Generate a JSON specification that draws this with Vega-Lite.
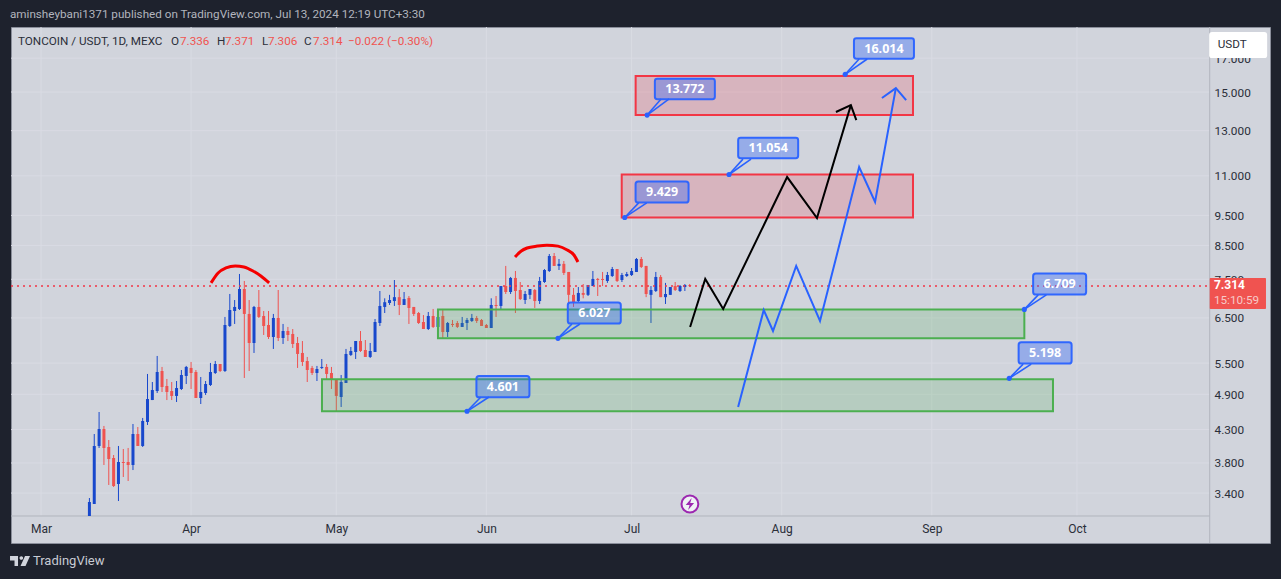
{
"$schema":"https://vega.github.io/schema/vega-lite/v6.json",
"width":1259,"height":516,
"autosize":{"type":"none"},
"padding":{"left":11,"top":27,"right":11,"bottom":36},
"background":"#1e222d",
"view":{"fill":"#d1d4dc","stroke":"#8a8e9a"},
"datasets":{
"candles":[
{"d":"2024-03-11","h":3.338,"o":3.123,"c":3.289,"l":3.123},
{"d":"2024-03-12","h":4.23,"o":3.265,"c":4.047,"l":3.265},
{"d":"2024-03-13","h":4.589,"o":4.047,"c":4.309,"l":4.017},
{"d":"2024-03-14","h":4.358,"o":4.309,"c":4.017,"l":3.772},
{"d":"2024-03-15","h":4.137,"o":4.032,"c":3.856,"l":3.503},
{"d":"2024-03-16","h":3.914,"o":3.871,"c":3.49,"l":3.477},
{"d":"2024-03-17","h":4.047,"o":3.516,"c":3.814,"l":3.301},
{"d":"2024-03-18","h":4.002,"o":3.814,"c":3.8,"l":3.608},
{"d":"2024-03-19","h":4.017,"o":3.814,"c":3.772,"l":3.555},
{"d":"2024-03-20","h":4.39,"o":3.772,"c":4.23,"l":3.702},
{"d":"2024-03-21","h":4.341,"o":4.23,"c":4.047,"l":4.047},
{"d":"2024-03-22","h":4.489,"o":4.047,"c":4.439,"l":4.032},
{"d":"2024-03-23","h":5.283,"o":4.423,"c":4.815,"l":4.374},
{"d":"2024-03-24","h":5.128,"o":4.797,"c":4.978,"l":4.797},
{"d":"2024-03-25","h":5.647,"o":4.96,"c":5.322,"l":4.924},
{"d":"2024-03-26","h":5.422,"o":5.341,"c":5.034,"l":4.942},
{"d":"2024-03-27","h":5.186,"o":5.053,"c":4.942,"l":4.797},
{"d":"2024-03-28","h":5.128,"o":4.96,"c":4.87,"l":4.797},
{"d":"2024-03-29","h":5.147,"o":4.87,"c":5.015,"l":4.762},
{"d":"2024-03-30","h":5.361,"o":4.997,"c":5.263,"l":4.978},
{"d":"2024-03-31","h":5.442,"o":5.244,"c":5.422,"l":5.09},
{"d":"2024-04-01","h":5.523,"o":5.402,"c":5.302,"l":4.997},
{"d":"2024-04-02","h":5.361,"o":5.322,"c":4.833,"l":4.833},
{"d":"2024-04-03","h":5.224,"o":4.833,"c":4.942,"l":4.727},
{"d":"2024-04-04","h":5.147,"o":4.924,"c":5.09,"l":4.888},
{"d":"2024-04-05","h":5.503,"o":5.071,"c":5.322,"l":5.053},
{"d":"2024-04-06","h":5.543,"o":5.302,"c":5.482,"l":5.283},
{"d":"2024-04-07","h":5.482,"o":5.482,"c":5.341,"l":5.322},
{"d":"2024-04-08","h":6.524,"o":5.341,"c":6.333,"l":5.322},
{"d":"2024-04-09","h":7.103,"o":6.31,"c":6.694,"l":6.287},
{"d":"2024-04-10","h":6.946,"o":6.67,"c":6.77,"l":6.357},
{"d":"2024-04-11","h":7.649,"o":6.719,"c":7.235,"l":6.694},
{"d":"2024-04-12","h":7.453,"o":7.235,"c":6.597,"l":5.205},
{"d":"2024-04-13","h":6.946,"o":6.597,"c":5.925,"l":5.341},
{"d":"2024-04-14","h":6.795,"o":5.925,"c":6.77,"l":5.71},
{"d":"2024-04-15","h":7.208,"o":6.77,"c":6.524,"l":6.5},
{"d":"2024-04-16","h":6.67,"o":6.548,"c":6.31,"l":6.103},
{"d":"2024-04-17","h":6.67,"o":6.333,"c":6.058,"l":6.013},
{"d":"2024-04-18","h":6.597,"o":6.058,"c":6.5,"l":5.795},
{"d":"2024-04-19","h":7.208,"o":6.5,"c":6.035,"l":5.968},
{"d":"2024-04-20","h":6.357,"o":6.035,"c":6.193,"l":5.903},
{"d":"2024-04-21","h":6.287,"o":6.193,"c":6.103,"l":5.968},
{"d":"2024-04-22","h":6.239,"o":6.126,"c":5.903,"l":5.816},
{"d":"2024-04-23","h":6.058,"o":5.925,"c":5.689,"l":5.402},
{"d":"2024-04-24","h":5.968,"o":5.71,"c":5.523,"l":5.442},
{"d":"2024-04-25","h":5.626,"o":5.543,"c":5.361,"l":5.128},
{"d":"2024-04-26","h":5.442,"o":5.402,"c":5.302,"l":5.263},
{"d":"2024-04-27","h":5.442,"o":5.302,"c":5.381,"l":5.147},
{"d":"2024-04-28","h":5.584,"o":5.402,"c":5.422,"l":5.381},
{"d":"2024-04-29","h":5.482,"o":5.422,"c":5.283,"l":5.166},
{"d":"2024-04-30","h":5.422,"o":5.302,"c":5.166,"l":4.997},
{"d":"2024-05-01","h":5.166,"o":5.166,"c":4.87,"l":4.606},
{"d":"2024-05-02","h":5.263,"o":4.851,"c":5.128,"l":4.675},
{"d":"2024-05-03","h":5.795,"o":5.109,"c":5.689,"l":5.109},
{"d":"2024-05-04","h":5.838,"o":5.668,"c":5.752,"l":5.647},
{"d":"2024-05-05","h":5.968,"o":5.731,"c":5.968,"l":5.584},
{"d":"2024-05-06","h":6.193,"o":5.968,"c":5.752,"l":5.731},
{"d":"2024-05-07","h":5.99,"o":5.773,"c":5.626,"l":5.626},
{"d":"2024-05-08","h":5.925,"o":5.626,"c":5.752,"l":5.605},
{"d":"2024-05-09","h":6.475,"o":5.731,"c":6.404,"l":5.731},
{"d":"2024-05-10","h":7.182,"o":6.38,"c":6.795,"l":6.31},
{"d":"2024-05-11","h":6.99,"o":6.77,"c":6.89,"l":6.62},
{"d":"2024-05-12","h":7.08,"o":6.87,"c":6.946,"l":6.82},
{"d":"2024-05-13","h":7.48,"o":6.92,"c":7.02,"l":6.795},
{"d":"2024-05-14","h":7.235,"o":7.02,"c":6.82,"l":6.57},
{"d":"2024-05-15","h":7.155,"o":6.82,"c":6.97,"l":6.82},
{"d":"2024-05-16","h":7.05,"o":7.0,"c":6.745,"l":6.357},
{"d":"2024-05-17","h":6.77,"o":6.77,"c":6.597,"l":6.548},
{"d":"2024-05-18","h":6.645,"o":6.62,"c":6.38,"l":6.357},
{"d":"2024-05-19","h":6.57,"o":6.404,"c":6.239,"l":6.239},
{"d":"2024-05-20","h":6.645,"o":6.239,"c":6.548,"l":6.216},
{"d":"2024-05-21","h":6.72,"o":6.548,"c":6.287,"l":6.263},
{"d":"2024-05-22","h":6.62,"o":6.287,"c":6.524,"l":6.17},
{"d":"2024-05-23","h":6.72,"o":6.548,"c":6.17,"l":6.035},
{"d":"2024-05-24","h":6.404,"o":6.17,"c":6.38,"l":6.058},
{"d":"2024-05-25","h":6.451,"o":6.357,"c":6.333,"l":6.287},
{"d":"2024-05-26","h":6.427,"o":6.38,"c":6.287,"l":6.263},
{"d":"2024-05-27","h":6.524,"o":6.287,"c":6.38,"l":6.287},
{"d":"2024-05-28","h":6.5,"o":6.38,"c":6.451,"l":6.216},
{"d":"2024-05-29","h":6.597,"o":6.427,"c":6.5,"l":6.404},
{"d":"2024-05-30","h":6.548,"o":6.5,"c":6.427,"l":6.38},
{"d":"2024-05-31","h":6.475,"o":6.451,"c":6.31,"l":6.31},
{"d":"2024-06-01","h":6.357,"o":6.333,"c":6.263,"l":6.263},
{"d":"2024-06-02","h":6.99,"o":6.263,"c":6.82,"l":6.263},
{"d":"2024-06-03","h":7.05,"o":6.82,"c":6.795,"l":6.524},
{"d":"2024-06-04","h":7.315,"o":6.795,"c":7.315,"l":6.694},
{"d":"2024-06-05","h":7.88,"o":7.315,"c":7.155,"l":7.103},
{"d":"2024-06-06","h":7.565,"o":7.155,"c":7.537,"l":7.103},
{"d":"2024-06-07","h":7.734,"o":7.537,"c":7.182,"l":6.62},
{"d":"2024-06-08","h":7.425,"o":7.208,"c":6.97,"l":6.946},
{"d":"2024-06-09","h":7.182,"o":6.946,"c":7.103,"l":6.845},
{"d":"2024-06-10","h":7.235,"o":7.08,"c":7.235,"l":6.97},
{"d":"2024-06-11","h":7.235,"o":7.208,"c":6.92,"l":6.745},
{"d":"2024-06-12","h":7.565,"o":6.92,"c":7.453,"l":6.845},
{"d":"2024-06-13","h":7.79,"o":7.425,"c":7.762,"l":7.4},
{"d":"2024-06-14","h":8.235,"o":7.734,"c":8.175,"l":7.706},
{"d":"2024-06-15","h":8.266,"o":8.175,"c":7.88,"l":7.88},
{"d":"2024-06-16","h":8.085,"o":7.88,"c":7.94,"l":7.762},
{"d":"2024-06-17","h":8.025,"o":7.94,"c":7.678,"l":7.62},
{"d":"2024-06-18","h":7.706,"o":7.706,"c":7.08,"l":6.87},
{"d":"2024-06-19","h":7.262,"o":7.08,"c":6.895,"l":6.77},
{"d":"2024-06-20","h":7.288,"o":6.92,"c":7.13,"l":6.895},
{"d":"2024-06-21","h":7.37,"o":7.13,"c":7.08,"l":6.99},
{"d":"2024-06-22","h":7.343,"o":7.08,"c":7.343,"l":7.05},
{"d":"2024-06-23","h":7.734,"o":7.315,"c":7.51,"l":7.315},
{"d":"2024-06-24","h":7.537,"o":7.51,"c":7.48,"l":7.05},
{"d":"2024-06-25","h":7.706,"o":7.51,"c":7.48,"l":7.315},
{"d":"2024-06-26","h":7.706,"o":7.453,"c":7.62,"l":7.4},
{"d":"2024-06-27","h":7.85,"o":7.592,"c":7.79,"l":7.565},
{"d":"2024-06-28","h":7.79,"o":7.79,"c":7.453,"l":7.425},
{"d":"2024-06-29","h":7.678,"o":7.48,"c":7.62,"l":7.425},
{"d":"2024-06-30","h":7.706,"o":7.592,"c":7.649,"l":7.565},
{"d":"2024-07-01","h":7.82,"o":7.62,"c":7.734,"l":7.592},
{"d":"2024-07-02","h":8.115,"o":7.706,"c":8.085,"l":7.706},
{"d":"2024-07-03","h":8.145,"o":8.085,"c":7.85,"l":7.82},
{"d":"2024-07-04","h":7.88,"o":7.88,"c":7.103,"l":7.02},
{"d":"2024-07-05","h":7.315,"o":7.08,"c":7.208,"l":6.38},
{"d":"2024-07-06","h":7.706,"o":7.182,"c":7.565,"l":7.155},
{"d":"2024-07-07","h":7.62,"o":7.565,"c":7.02,"l":7.02},
{"d":"2024-07-08","h":7.4,"o":7.02,"c":7.103,"l":6.845},
{"d":"2024-07-09","h":7.288,"o":7.08,"c":7.288,"l":7.08},
{"d":"2024-07-10","h":7.425,"o":7.315,"c":7.208,"l":7.182},
{"d":"2024-07-11","h":7.343,"o":7.182,"c":7.315,"l":7.155},
{"d":"2024-07-12","h":7.37,"o":7.288,"c":7.343,"l":7.182},
{"d":"2024-07-13","h":7.371,"o":7.336,"c":7.314,"l":7.306}
],
"zones":[
{"k":"red","d":"2024-07-01T20:00:00Z","d2":"2024-08-28T03:00:00Z","p":15.92,"p2":13.772},
{"k":"red","d":"2024-06-28T23:00:00Z","d2":"2024-08-28T03:00:00Z","p":11.054,"p2":9.429},
{"k":"green","d":"2024-05-22T00:00:00Z","d2":"2024-09-20T03:00:00Z","p":6.709,"p2":6.027},
{"k":"green","d":"2024-04-28T01:00:00Z","d2":"2024-09-26T01:00:00Z","p":5.18,"p2":4.601}
],
"callouts":[
{"t":"13.772","d":"2024-07-04T05:00:00Z","p":13.772,"d2":"2024-07-07T02:00:00Z","d3":"2024-07-08T18:00:00Z","p2":14.62,"bd":"2024-07-12T00:00:00Z","bp":15.17},
{"t":"9.429","d":"2024-06-29T14:00:00Z","p":9.429,"d2":"2024-07-02T11:00:00Z","d3":"2024-07-04T03:00:00Z","p2":9.95,"bd":"2024-07-07T07:00:00Z","bp":10.36},
{"t":"11.054","d":"2024-07-21T03:00:00Z","p":11.054,"d2":"2024-07-24T00:00:00Z","d3":"2024-07-25T16:00:00Z","p2":11.7,"bd":"2024-07-29T05:00:00Z","bp":12.19},
{"t":"16.014","d":"2024-08-14T03:00:00Z","p":16.014,"d2":"2024-08-17T00:00:00Z","d3":"2024-08-18T16:00:00Z","p2":16.95,"bd":"2024-08-22T03:00:00Z","bp":17.62},
{"t":"6.709","d":"2024-09-20T03:00:00Z","p":6.709,"d2":"2024-09-23T00:00:00Z","d3":"2024-09-24T16:00:00Z","p2":7.08,"bd":"2024-09-27T10:00:00Z","bp":7.37},
{"t":"5.198","d":"2024-09-17T00:00:00Z","p":5.198,"d2":"2024-09-19T21:00:00Z","d3":"2024-09-21T13:00:00Z","p2":5.48,"bd":"2024-09-24T10:00:00Z","bp":5.71},
{"t":"6.027","d":"2024-06-15T19:00:00Z","p":6.027,"d2":"2024-06-18T16:00:00Z","d3":"2024-06-20T08:00:00Z","p2":6.357,"bd":"2024-06-23T07:00:00Z","bp":6.62},
{"t":"4.601","d":"2024-05-28T00:00:00Z","p":4.601,"d2":"2024-05-30T21:00:00Z","d3":"2024-06-01T13:00:00Z","p2":4.851,"bd":"2024-06-04T10:00:00Z","bp":5.04}
],
"lines":[
{"g":"k1","s":1,"d":"2024-07-13T02:00:00Z","p":6.287},
{"g":"k1","s":2,"d":"2024-07-16T05:00:00Z","p":7.51},
{"g":"k1","s":3,"d":"2024-07-19T22:00:00Z","p":6.72},
{"g":"k1","s":4,"d":"2024-08-02T03:00:00Z","p":10.95},
{"g":"k1","s":5,"d":"2024-08-08T07:00:00Z","p":9.41},
{"g":"k1","s":6,"d":"2024-08-15T07:00:00Z","p":14.29},
{"g":"k2","s":1,"d":"2024-08-12T05:00:00Z","p":13.93},
{"g":"k2","s":2,"d":"2024-08-15T07:00:00Z","p":14.29},
{"g":"k2","s":3,"d":"2024-08-16T10:00:00Z","p":13.52},
{"g":"b1","s":1,"d":"2024-07-23T00:00:00Z","p":4.675},
{"g":"b1","s":2,"d":"2024-07-28T07:00:00Z","p":6.694},
{"g":"b1","s":3,"d":"2024-07-30T05:00:00Z","p":6.193},
{"g":"b1","s":4,"d":"2024-08-04T00:00:00Z","p":7.88},
{"g":"b1","s":5,"d":"2024-08-08T22:00:00Z","p":6.427},
{"g":"b1","s":6,"d":"2024-08-17T00:00:00Z","p":11.36},
{"g":"b1","s":7,"d":"2024-08-20T07:00:00Z","p":9.99},
{"g":"b1","s":8,"d":"2024-08-24T14:00:00Z","p":15.22},
{"g":"b2","s":1,"d":"2024-08-21T17:00:00Z","p":14.67},
{"g":"b2","s":2,"d":"2024-08-24T14:00:00Z","p":15.22},
{"g":"b2","s":3,"d":"2024-08-26T17:00:00Z","p":14.56},
{"g":"r1","s":1,"d":"2024-04-05T03:00:00Z","p":7.4},
{"g":"r1","s":2,"d":"2024-04-06T14:00:00Z","p":7.678},
{"g":"r1","s":3,"d":"2024-04-08T05:00:00Z","p":7.82},
{"g":"r1","s":4,"d":"2024-04-10T03:00:00Z","p":7.88},
{"g":"r1","s":5,"d":"2024-04-11T22:00:00Z","p":7.85},
{"g":"r1","s":6,"d":"2024-04-13T19:00:00Z","p":7.734},
{"g":"r1","s":7,"d":"2024-04-15T10:00:00Z","p":7.59},
{"g":"r1","s":8,"d":"2024-04-17T03:00:00Z","p":7.4},
{"g":"r2","s":1,"d":"2024-06-06T22:00:00Z","p":8.145},
{"g":"r2","s":2,"d":"2024-06-08T05:00:00Z","p":8.33},
{"g":"r2","s":3,"d":"2024-06-09T10:00:00Z","p":8.42},
{"g":"r2","s":4,"d":"2024-06-11T12:00:00Z","p":8.48},
{"g":"r2","s":5,"d":"2024-06-13T12:00:00Z","p":8.51},
{"g":"r2","s":6,"d":"2024-06-15T19:00:00Z","p":8.48},
{"g":"r2","s":7,"d":"2024-06-17T17:00:00Z","p":8.358},
{"g":"r2","s":8,"d":"2024-06-19T02:00:00Z","p":8.205},
{"g":"r2","s":9,"d":"2024-06-19T22:00:00Z","p":7.995}
],
"texts":[
{"k":"head","t":"aminsheybani1371 published on TradingView.com, Jul 13, 2024 12:19 UTC+3:30","d":"2024-02-23T14:00:00Z","p":20.0},
{"k":"dark","t":"TONCOIN / USDT, 1D, MEXC","d":"2024-02-25T06:00:00Z","p":18.12},
{"k":"dark","t":"O","d":"2024-03-27T20:00:00Z","p":18.12},
{"k":"red","t":"7.336","d":"2024-03-29T17:00:00Z","p":18.12},
{"k":"dark","t":"H","d":"2024-04-06T09:00:00Z","p":18.12},
{"k":"red","t":"7.371","d":"2024-04-08T00:00:00Z","p":18.12},
{"k":"dark","t":"L","d":"2024-04-15T16:00:00Z","p":18.12},
{"k":"red","t":"7.306","d":"2024-04-16T21:00:00Z","p":18.12},
{"k":"dark","t":"C","d":"2024-04-24T08:00:00Z","p":18.12},
{"k":"red","t":"7.314","d":"2024-04-26T05:00:00Z","p":18.12},
{"k":"red","t":"−0.022 (−0.30%)","d":"2024-05-03T10:00:00Z","p":18.12},
{"k":"dark","t":"USDT","d":"2024-10-30T02:00:00Z","p":17.92},
{"k":"pink","t":"15:10:59","d":"2024-10-29T07:00:00Z","p":6.946}
],
"grid":[
{"d":"2024-02-23T19:16:00Z","d2":"2024-10-28T10:00:00Z","p":17},
{"d":"2024-02-23T19:16:00Z","d2":"2024-10-28T10:00:00Z","p":15},
{"d":"2024-02-23T19:16:00Z","d2":"2024-10-28T10:00:00Z","p":13},
{"d":"2024-02-23T19:16:00Z","d2":"2024-10-28T10:00:00Z","p":11},
{"d":"2024-02-23T19:16:00Z","d2":"2024-10-28T10:00:00Z","p":9.5},
{"d":"2024-02-23T19:16:00Z","d2":"2024-10-28T10:00:00Z","p":8.5},
{"d":"2024-02-23T19:16:00Z","d2":"2024-10-28T10:00:00Z","p":7.5},
{"d":"2024-02-23T19:16:00Z","d2":"2024-10-28T10:00:00Z","p":6.5},
{"d":"2024-02-23T19:16:00Z","d2":"2024-10-28T10:00:00Z","p":5.5},
{"d":"2024-02-23T19:16:00Z","d2":"2024-10-28T10:00:00Z","p":4.9},
{"d":"2024-02-23T19:16:00Z","d2":"2024-10-28T10:00:00Z","p":4.3},
{"d":"2024-02-23T19:16:00Z","d2":"2024-10-28T10:00:00Z","p":3.8},
{"d":"2024-02-23T19:16:00Z","d2":"2024-10-28T10:00:00Z","p":3.4},
{"d":"2024-03-01T00:00:00Z","d2":"2024-03-01T00:00:00Z","p":19.08,"p2":3.123},
{"d":"2024-04-01T00:00:00Z","d2":"2024-04-01T00:00:00Z","p":19.08,"p2":3.123},
{"d":"2024-05-01T00:00:00Z","d2":"2024-05-01T00:00:00Z","p":19.08,"p2":3.123},
{"d":"2024-06-01T00:00:00Z","d2":"2024-06-01T00:00:00Z","p":19.08,"p2":3.123},
{"d":"2024-07-01T00:00:00Z","d2":"2024-07-01T00:00:00Z","p":19.08,"p2":3.123},
{"d":"2024-08-01T00:00:00Z","d2":"2024-08-01T00:00:00Z","p":19.08,"p2":3.123},
{"d":"2024-09-01T00:00:00Z","d2":"2024-09-01T00:00:00Z","p":19.08,"p2":3.123},
{"d":"2024-10-01T00:00:00Z","d2":"2024-10-01T00:00:00Z","p":19.08,"p2":3.123}
]
},
"data":{"name":"grid"},
"encoding":{
"x":{"field":"d","type":"temporal","title":null,
"scale":{"type":"utc","domain":["2024-02-23T19:16:00Z","2024-11-09T20:53:00Z"],"nice":false},
"axis":{"orient":"bottom","offset":-27,"domain":false,"ticks":false,"grid":false,"labelPadding":7,"labelFont":"Roboto","labelFontSize":12,"labelColor":"#2a2e39","labelExpr":"utcFormat(datum.value,'%b')","labelOverlap":false,"labelBound":false,"labelFlush":false,"values":["2024-03-01T00:00:00Z","2024-04-01T00:00:00Z","2024-05-01T00:00:00Z","2024-06-01T00:00:00Z","2024-07-01T00:00:00Z","2024-08-01T00:00:00Z","2024-09-01T00:00:00Z","2024-10-01T00:00:00Z"]}},
"y":{"field":"p","type":"quantitative","title":null,
"scale":{"type":"log","domain":[2.826,19.08],"nice":false},
"axis":{"orient":"right","offset":-65,"domain":false,"ticks":false,"grid":false,"labelPadding":9,"labelFont":"Roboto","labelFontSize":11.8,"labelColor":"#2a2e39","format":".3f","labelOverlap":false,"labelBound":false,"labelFlush":false,"values":[17,15,13,11,9.5,8.5,7.5,6.5,5.5,4.9,4.3,3.8,3.4]}}
},
"layer":[
{"mark":{"type":"rule","color":"#d9dbe3","strokeWidth":1},"encoding":{"x2":{"field":"d2"},"y2":{"field":"p2"}}},
{"data":{"values":[{"d":"2024-10-28T10:00:00Z","p":19.08,"p2":2.826,"d2":"2024-10-28T10:00:00Z"},{"d":"2024-02-23T19:16:00Z","d2":"2024-10-28T10:00:00Z","p":3.123,"p2":3.123}]},
"mark":{"type":"rule","color":"#b2b5be","strokeWidth":1},"encoding":{"x2":{"field":"d2"},"y2":{"field":"p2"}}},
{"data":{"name":"candles"},"mark":{"type":"rule","strokeWidth":1},
"encoding":{"y":{"field":"h","type":"quantitative","title":null,"scale":{"type":"log","domain":[2.826,19.08],"nice":false}},"y2":{"field":"l"},
"color":{"condition":{"test":"datum.c>=datum.o","value":"#1848cc"},"value":"#ef5350"}}},
{"data":{"name":"candles"},"mark":{"type":"rule","strokeWidth":3},
"encoding":{"y":{"field":"o","type":"quantitative","title":null,"scale":{"type":"log","domain":[2.826,19.08],"nice":false}},"y2":{"field":"c"},
"color":{"condition":{"test":"datum.c>=datum.o","value":"#1848cc"},"value":"#ef5350"}}},
{"data":{"values":[{"d":"2024-02-23T19:16:00Z","d2":"2024-10-28T10:00:00Z","p":7.314}]},
"mark":{"type":"rule","color":"#f23645","strokeWidth":1.5,"strokeDash":[2,4]},"encoding":{"x2":{"field":"d2"}}},
{"data":{"name":"zones"},"mark":{"type":"rect","strokeWidth":2},
"encoding":{"x2":{"field":"d2"},"y2":{"field":"p2"},
"fill":{"field":"k","type":"nominal","scale":{"domain":["red","green"],"range":["#f23645","#4caf50"]},"legend":null},
"stroke":{"field":"k","type":"nominal","scale":{"domain":["red","green"],"range":["#f23645","#4caf50"]},"legend":null},
"fillOpacity":{"value":0.2}}},
{"data":{"name":"lines"},"transform":[{"filter":"datum.g[0]=='k'"}],"mark":{"type":"line","color":"#000000","strokeWidth":2},"encoding":{"detail":{"field":"g"},"order":{"field":"s"}}},
{"data":{"name":"lines"},"transform":[{"filter":"datum.g[0]=='b'"}],"mark":{"type":"line","color":"#2962ff","strokeWidth":2},"encoding":{"detail":{"field":"g"},"order":{"field":"s"}}},
{"data":{"name":"lines"},"transform":[{"filter":"datum.g[0]=='r'"}],"mark":{"type":"line","color":"#f50000","strokeWidth":3,"interpolate":"monotone"},"encoding":{"detail":{"field":"g"},"order":{"field":"s"}}},
{"data":{"name":"callouts"},"mark":{"type":"rule","color":"#2962ff","strokeWidth":1.6},"encoding":{"x2":{"field":"d2"},"y2":{"field":"p2"}}},
{"data":{"name":"callouts"},"mark":{"type":"rule","color":"#2962ff","strokeWidth":1.6},"encoding":{"x2":{"field":"d3"},"y2":{"field":"p2"}}},
{"data":{"name":"callouts"},"mark":{"type":"point","filled":true,"color":"#2962ff","size":26,"opacity":1}},
{"data":{"name":"callouts"},"transform":[{"filter":"length(datum.t)==6"}],
"mark":{"type":"point","filled":true,"fill":"#2962ff","fillOpacity":0.35,"stroke":"#2962ff","strokeWidth":2,"strokeOpacity":0.95,"opacity":1,"size":3600,"shape":"M-0.92,-0.34 H0.92 Q1,-0.34 1,-0.26 V0.26 Q1,0.34 0.92,0.34 H-0.92 Q-1,0.34 -1,0.26 V-0.26 Q-1,-0.34 -0.92,-0.34 Z"},
"encoding":{"x":{"field":"bd","type":"temporal","title":null,"scale":{"type":"utc","domain":["2024-02-23T19:16:00Z","2024-11-09T20:53:00Z"],"nice":false}},"y":{"field":"bp","type":"quantitative","title":null,"scale":{"type":"log","domain":[2.826,19.08],"nice":false}}}},
{"data":{"name":"callouts"},"transform":[{"filter":"length(datum.t)==5"}],
"mark":{"type":"point","filled":true,"fill":"#2962ff","fillOpacity":0.35,"stroke":"#2962ff","strokeWidth":2,"strokeOpacity":0.95,"opacity":1,"size":2809,"shape":"M-0.9,-0.4 H0.9 Q1,-0.4 1,-0.3 V0.3 Q1,0.4 0.9,0.4 H-0.9 Q-1,0.4 -1,0.3 V-0.3 Q-1,-0.4 -0.9,-0.4 Z"},
"encoding":{"x":{"field":"bd","type":"temporal","title":null,"scale":{"type":"utc","domain":["2024-02-23T19:16:00Z","2024-11-09T20:53:00Z"],"nice":false}},"y":{"field":"bp","type":"quantitative","title":null,"scale":{"type":"log","domain":[2.826,19.08],"nice":false}}}},
{"data":{"name":"callouts"},"mark":{"type":"text","color":"#ffffff","fontWeight":"bold","fontSize":12.5,"font":"Noto Sans","align":"center","baseline":"middle"},
"encoding":{"text":{"field":"t"},"x":{"field":"bd","type":"temporal","title":null,"scale":{"type":"utc","domain":["2024-02-23T19:16:00Z","2024-11-09T20:53:00Z"],"nice":false}},"y":{"field":"bp","type":"quantitative","title":null,"scale":{"type":"log","domain":[2.826,19.08],"nice":false}}}},
{"data":{"values":[{"d":"2024-10-28T10:00:00Z","d2":"2024-11-09T01:00:00Z","p":7.536,"p2":6.72}]},"mark":{"type":"rect","color":"#f05350","cornerRadius":1},"encoding":{"x2":{"field":"d2"},"y2":{"field":"p2"}}},
{"data":{"values":[{"d":"2024-10-29T07:00:00Z","p":7.34,"t":"7.314"}]},"mark":{"type":"text","color":"#ffffff","fontWeight":"bold","fontSize":12,"font":"Roboto","align":"left","baseline":"middle"},"encoding":{"text":{"field":"t"}}},
{"data":{"values":[{"d":"2024-11-03T07:00:00Z","p":17.85}]},"mark":{"type":"point","filled":true,"fill":"#ffffff","opacity":1,"size":3364,"shape":"M-0.9,-0.45 H0.9 Q1,-0.45 1,-0.35 V0.35 Q1,0.45 0.9,0.45 H-0.9 Q-1,0.45 -1,0.35 V-0.35 Q-1,-0.45 -0.9,-0.45 Z"}},
{"data":{"name":"texts"},"mark":{"type":"text","fontSize":11.7,"font":"Roboto","align":"left","baseline":"middle"},
"encoding":{"text":{"field":"t"},"color":{"field":"k","type":"nominal","scale":{"domain":["head","dark","red","pink"],"range":["#b2b5be","#2a2e39","#f05350","#f7c9c8"]},"legend":null}}},
{"data":{"values":[{"d":"2024-02-28T08:00:00Z","p":2.644,"t":"TradingView"}]},"mark":{"type":"text","color":"#c8cbd3","fontSize":13,"font":"Roboto","align":"left","baseline":"middle"},"encoding":{"text":{"field":"t"}}},
{"data":{"values":[{"d":"2024-02-25T16:00:00Z","p":2.644}]},"mark":{"type":"point","filled":true,"fill":"#d1d4dc","opacity":1,"size":400,"shape":"M-1,-0.5 H-0.2 V0.5 H-0.55 V-0.05 H-1 Z M-0.05,-0.3 A0.18,0.18 0 1 1 0.31,-0.3 A0.18,0.18 0 1 1 -0.05,-0.3 Z M0.5,-0.5 H1 L0.55,0.5 H0.05 Z"}},
{"data":{"values":[{"d":"2024-07-13T01:00:00Z","p":3.265}]},"mark":{"type":"point","filled":true,"fill":"#eef0f4","stroke":"#9c27b0","strokeWidth":2,"opacity":1,"size":283}},
{"data":{"values":[{"d":"2024-07-13T01:00:00Z","p":3.265}]},"mark":{"type":"point","filled":true,"fill":"#9c27b0","opacity":1,"size":144,"shape":"M0.3,-1 L-0.7,0.15 H-0.05 L-0.3,1 L0.7,-0.15 H0.05 Z"}}
]
}
